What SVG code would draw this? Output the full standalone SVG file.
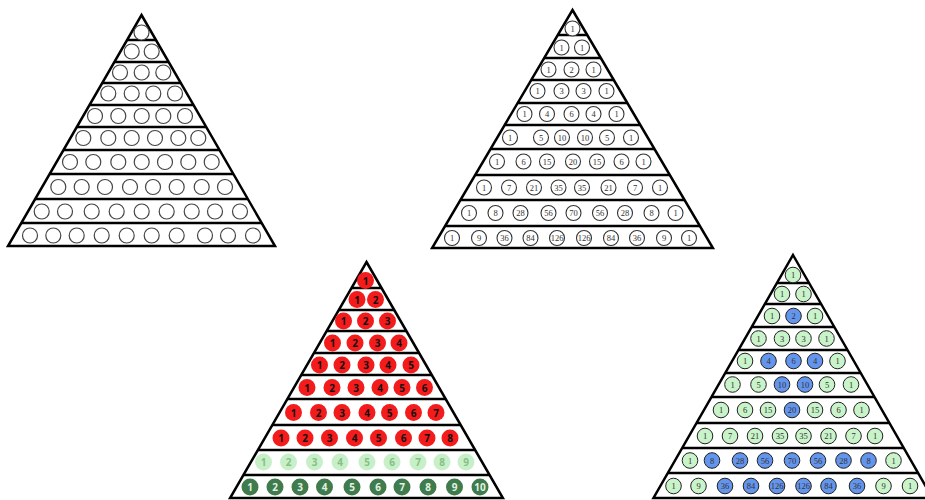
<svg xmlns="http://www.w3.org/2000/svg" width="925" height="500" viewBox="0 0 925 500">
<style>
.tri{fill:#fff;stroke:#000;stroke-width:2.5;stroke-linejoin:miter}
.ln{stroke:#000;stroke-width:2.5}
.e{fill:#fff;stroke:#444;stroke-width:1.2}
.w{fill:#fff;stroke:#333;stroke-width:1.1}
.s{font-family:"Liberation Serif","DejaVu Serif",serif;font-size:8.5px;fill:#333;text-anchor:middle;dominant-baseline:central}
.r{fill:#f31b1b}
.lg{fill:#c8f0c8}
.dg{fill:#3f7b4c}
.k{font-family:"Open Sans","DejaVu Sans",sans-serif;font-weight:700;font-size:10px;text-anchor:middle;dominant-baseline:central}
.kr{fill:#111}
.kl{fill:#86bf86}
.kd{fill:#e2f2e2}
.g{fill:#c9f3c9;stroke:#222;stroke-width:1}
.b{fill:#6495ed;stroke:#222;stroke-width:1}
</style>
<rect width="925" height="500" fill="#fff"/>

<g id="triangle-empty">
<polygon class="tri" points="141.5,15 275,246 8,246"/>
<g class="lines">
<line class="ln" x1="127" y1="40" x2="156" y2="40"/>
<line class="ln" x1="114.3" y1="62" x2="168.7" y2="62"/>
<line class="ln" x1="102.2" y1="83" x2="180.8" y2="83"/>
<line class="ln" x1="89.5" y1="105" x2="193.5" y2="105"/>
<line class="ln" x1="76.8" y1="127" x2="206.2" y2="127"/>
<line class="ln" x1="63.5" y1="150" x2="219.5" y2="150"/>
<line class="ln" x1="49.6" y1="174" x2="233.4" y2="174"/>
<line class="ln" x1="35.1" y1="199" x2="247.9" y2="199"/>
<line class="ln" x1="21.3" y1="223" x2="261.7" y2="223"/>
</g>
<g class="circles">
<circle class="e" cx="141.5" cy="32.5" r="7.5"/>
<circle class="e" cx="131.7" cy="51.5" r="7.5"/><circle class="e" cx="151.7" cy="51.5" r="7.5"/>
<circle class="e" cx="120" cy="72.5" r="7.5"/><circle class="e" cx="141.7" cy="72.5" r="7.5"/><circle class="e" cx="163.3" cy="72.5" r="7.5"/>
<circle class="e" cx="108.3" cy="93.5" r="7.5"/><circle class="e" cx="131.7" cy="93.5" r="7.5"/><circle class="e" cx="153.3" cy="93.5" r="7.5"/><circle class="e" cx="175" cy="93.5" r="7.5"/>
<circle class="e" cx="95" cy="116" r="7.5"/><circle class="e" cx="118.3" cy="116" r="7.5"/><circle class="e" cx="141.7" cy="116" r="7.5"/><circle class="e" cx="163.3" cy="116" r="7.5"/><circle class="e" cx="185" cy="116" r="7.5"/>
<circle class="e" cx="83.3" cy="138" r="7.5"/><circle class="e" cx="108.3" cy="138" r="7.5"/><circle class="e" cx="131.7" cy="138" r="7.5"/><circle class="e" cx="155" cy="138" r="7.5"/><circle class="e" cx="178.3" cy="138" r="7.5"/><circle class="e" cx="198.3" cy="138" r="7.5"/>
<circle class="e" cx="70" cy="162" r="7.5"/><circle class="e" cx="93.3" cy="162" r="7.5"/><circle class="e" cx="118.3" cy="162" r="7.5"/><circle class="e" cx="141.7" cy="162" r="7.5"/><circle class="e" cx="165" cy="162" r="7.5"/><circle class="e" cx="188.3" cy="162" r="7.5"/><circle class="e" cx="211.7" cy="162" r="7.5"/>
<circle class="e" cx="58.3" cy="187" r="7.5"/><circle class="e" cx="81.7" cy="187" r="7.5"/><circle class="e" cx="105" cy="187" r="7.5"/><circle class="e" cx="130" cy="187" r="7.5"/><circle class="e" cx="153" cy="187" r="7.5"/><circle class="e" cx="176.7" cy="187" r="7.5"/><circle class="e" cx="201.7" cy="187" r="7.5"/><circle class="e" cx="225" cy="187" r="7.5"/>
<circle class="e" cx="41.7" cy="211.5" r="7.5"/><circle class="e" cx="65" cy="211.5" r="7.5"/><circle class="e" cx="91.7" cy="211.5" r="7.5"/><circle class="e" cx="116.7" cy="211.5" r="7.5"/><circle class="e" cx="141.7" cy="211.5" r="7.5"/><circle class="e" cx="166.7" cy="211.5" r="7.5"/><circle class="e" cx="191.7" cy="211.5" r="7.5"/><circle class="e" cx="215" cy="211.5" r="7.5"/><circle class="e" cx="240" cy="211.5" r="7.5"/>
<circle class="e" cx="30" cy="235.5" r="7.5"/><circle class="e" cx="53.3" cy="235.5" r="7.5"/><circle class="e" cx="76.7" cy="235.5" r="7.5"/><circle class="e" cx="101.7" cy="235.5" r="7.5"/><circle class="e" cx="126.7" cy="235.5" r="7.5"/><circle class="e" cx="151.7" cy="235.5" r="7.5"/><circle class="e" cx="176.7" cy="235.5" r="7.5"/><circle class="e" cx="205" cy="235.5" r="7.5"/><circle class="e" cx="228" cy="235.5" r="7.5"/><circle class="e" cx="253" cy="235.5" r="7.5"/>
</g>
</g>

<g id="triangle-pascal">
<polygon class="tri" points="572.5,10 712.9,248 432.1,248"/>
<g class="lines">
<line class="ln" x1="557.8" y1="35" x2="587.2" y2="35"/>
<line class="ln" x1="544.2" y1="58" x2="600.8" y2="58"/>
<line class="ln" x1="531.2" y1="80" x2="613.8" y2="80"/>
<line class="ln" x1="517.6" y1="103" x2="627.4" y2="103"/>
<line class="ln" x1="504.6" y1="125" x2="640.4" y2="125"/>
<line class="ln" x1="490.5" y1="149" x2="654.5" y2="149"/>
<line class="ln" x1="475.1" y1="175" x2="669.9" y2="175"/>
<line class="ln" x1="460.4" y1="200" x2="684.6" y2="200"/>
<line class="ln" x1="445.1" y1="226" x2="699.9" y2="226"/>
</g>
<g class="circles">
<circle class="w" cx="572.5" cy="28.5" r="7.5"/>
<circle class="w" cx="561.5" cy="47.5" r="7.5"/><circle class="w" cx="582" cy="47.5" r="7.5"/>
<circle class="w" cx="548.5" cy="69.5" r="7.5"/><circle class="w" cx="571.5" cy="69.5" r="7.5"/><circle class="w" cx="593.5" cy="69.5" r="7.5"/>
<circle class="w" cx="537.5" cy="91" r="7.5"/><circle class="w" cx="561.5" cy="91" r="7.5"/><circle class="w" cx="583.5" cy="91" r="7.5"/><circle class="w" cx="606.5" cy="91" r="7.5"/>
<circle class="w" cx="524.5" cy="114" r="7.5"/><circle class="w" cx="547" cy="114" r="7.5"/><circle class="w" cx="571.5" cy="114" r="7.5"/><circle class="w" cx="593.5" cy="114" r="7.5"/><circle class="w" cx="616.5" cy="114" r="7.5"/>
<circle class="w" cx="510" cy="137.5" r="7.5"/><circle class="w" cx="541" cy="137.5" r="7.5"/><circle class="w" cx="562" cy="137.5" r="7.5"/><circle class="w" cx="585" cy="137.5" r="7.5"/><circle class="w" cx="607" cy="137.5" r="7.5"/><circle class="w" cx="631" cy="137.5" r="7.5"/>
<circle class="w" cx="497" cy="161.5" r="7.5"/><circle class="w" cx="523.5" cy="161.5" r="7.5"/><circle class="w" cx="547" cy="161.5" r="7.5"/><circle class="w" cx="573" cy="161.5" r="7.5"/><circle class="w" cx="597" cy="161.5" r="7.5"/><circle class="w" cx="621.5" cy="161.5" r="7.5"/><circle class="w" cx="643.5" cy="161.5" r="7.5"/>
<circle class="w" cx="484" cy="187.5" r="7.5"/><circle class="w" cx="509" cy="187.5" r="7.5"/><circle class="w" cx="534" cy="187.5" r="7.5"/><circle class="w" cx="558.5" cy="187.5" r="7.5"/><circle class="w" cx="582" cy="187.5" r="7.5"/><circle class="w" cx="608.5" cy="187.5" r="7.5"/><circle class="w" cx="635" cy="187.5" r="7.5"/><circle class="w" cx="660" cy="187.5" r="7.5"/>
<circle class="w" cx="469" cy="213" r="7.5"/><circle class="w" cx="495.5" cy="213" r="7.5"/><circle class="w" cx="520.5" cy="213" r="7.5"/><circle class="w" cx="548.5" cy="213" r="7.5"/><circle class="w" cx="573.5" cy="213" r="7.5"/><circle class="w" cx="600" cy="213" r="7.5"/><circle class="w" cx="625" cy="213" r="7.5"/><circle class="w" cx="651.5" cy="213" r="7.5"/><circle class="w" cx="675.5" cy="213" r="7.5"/>
<circle class="w" cx="452" cy="238" r="7.5"/><circle class="w" cx="479" cy="238" r="7.5"/><circle class="w" cx="504.5" cy="238" r="7.5"/><circle class="w" cx="530.5" cy="238" r="7.5"/><circle class="w" cx="557" cy="238" r="7.5"/><circle class="w" cx="584" cy="238" r="7.5"/><circle class="w" cx="611" cy="238" r="7.5"/><circle class="w" cx="637" cy="238" r="7.5"/><circle class="w" cx="664" cy="238" r="7.5"/><circle class="w" cx="689" cy="238" r="7.5"/>
</g>
<g class="labels">
<text class="s" x="572.5" y="28.5">1</text>
<text class="s" x="561.5" y="47.5">1</text><text class="s" x="582" y="47.5">1</text>
<text class="s" x="548.5" y="69.5">1</text><text class="s" x="571.5" y="69.5">2</text><text class="s" x="593.5" y="69.5">1</text>
<text class="s" x="537.5" y="91">1</text><text class="s" x="561.5" y="91">3</text><text class="s" x="583.5" y="91">3</text><text class="s" x="606.5" y="91">1</text>
<text class="s" x="524.5" y="114">1</text><text class="s" x="547" y="114">4</text><text class="s" x="571.5" y="114">6</text><text class="s" x="593.5" y="114">4</text><text class="s" x="616.5" y="114">1</text>
<text class="s" x="510" y="137.5">1</text><text class="s" x="541" y="137.5">5</text><text class="s" x="562" y="137.5">10</text><text class="s" x="585" y="137.5">10</text><text class="s" x="607" y="137.5">5</text><text class="s" x="631" y="137.5">1</text>
<text class="s" x="497" y="161.5">1</text><text class="s" x="523.5" y="161.5">6</text><text class="s" x="547" y="161.5">15</text><text class="s" x="573" y="161.5">20</text><text class="s" x="597" y="161.5">15</text><text class="s" x="621.5" y="161.5">6</text><text class="s" x="643.5" y="161.5">1</text>
<text class="s" x="484" y="187.5">1</text><text class="s" x="509" y="187.5">7</text><text class="s" x="534" y="187.5">21</text><text class="s" x="558.5" y="187.5">35</text><text class="s" x="582" y="187.5">35</text><text class="s" x="608.5" y="187.5">21</text><text class="s" x="635" y="187.5">7</text><text class="s" x="660" y="187.5">1</text>
<text class="s" x="469" y="213">1</text><text class="s" x="495.5" y="213">8</text><text class="s" x="520.5" y="213">28</text><text class="s" x="548.5" y="213">56</text><text class="s" x="573.5" y="213">70</text><text class="s" x="600" y="213">56</text><text class="s" x="625" y="213">28</text><text class="s" x="651.5" y="213">8</text><text class="s" x="675.5" y="213">1</text>
<text class="s" x="452" y="238">1</text><text class="s" x="479" y="238">9</text><text class="s" x="504.5" y="238">36</text><text class="s" x="530.5" y="238">84</text><text class="s" x="557" y="238">126</text><text class="s" x="584" y="238">126</text><text class="s" x="611" y="238">84</text><text class="s" x="637" y="238">36</text><text class="s" x="664" y="238">9</text><text class="s" x="689" y="238">1</text>
</g>
</g>

<g id="triangle-counting">
<polygon class="tri" points="366.5,262 502.9,498 230.1,498"/>
<g class="lines">
<line class="ln" x1="351.5" y1="288" x2="381.5" y2="288"/>
<line class="ln" x1="338.8" y1="310" x2="394.2" y2="310"/>
<line class="ln" x1="326.6" y1="331" x2="406.4" y2="331"/>
<line class="ln" x1="313.9" y1="353" x2="419.1" y2="353"/>
<line class="ln" x1="301.2" y1="375" x2="431.8" y2="375"/>
<line class="ln" x1="287.3" y1="399" x2="445.7" y2="399"/>
<line class="ln" x1="272.3" y1="425" x2="460.7" y2="425"/>
<line class="ln" x1="257.8" y1="450" x2="475.2" y2="450"/>
<line class="ln" x1="243.4" y1="475" x2="489.6" y2="475"/>
</g>
<g class="circles">
<circle class="r" cx="365.5" cy="280.5" r="8.5"/>
<circle class="r" cx="357" cy="299.5" r="8.5"/><circle class="r" cx="375.5" cy="299.5" r="8.5"/>
<circle class="r" cx="343.5" cy="321" r="8.5"/><circle class="r" cx="365.5" cy="321" r="8.5"/><circle class="r" cx="387.5" cy="321" r="8.5"/>
<circle class="r" cx="332.5" cy="343" r="8.5"/><circle class="r" cx="355" cy="343" r="8.5"/><circle class="r" cx="377.5" cy="343" r="8.5"/><circle class="r" cx="399" cy="343" r="8.5"/>
<circle class="r" cx="319.5" cy="365" r="8.5"/><circle class="r" cx="342" cy="365" r="8.5"/><circle class="r" cx="366" cy="365" r="8.5"/><circle class="r" cx="388" cy="365" r="8.5"/><circle class="r" cx="411" cy="365" r="8.5"/>
<circle class="r" cx="307" cy="387.5" r="8.5"/><circle class="r" cx="332" cy="387.5" r="8.5"/><circle class="r" cx="356" cy="387.5" r="8.5"/><circle class="r" cx="380" cy="387.5" r="8.5"/><circle class="r" cx="402" cy="387.5" r="8.5"/><circle class="r" cx="424.5" cy="387.5" r="8.5"/>
<circle class="r" cx="293.5" cy="412.5" r="8.5"/><circle class="r" cx="318.5" cy="412.5" r="8.5"/><circle class="r" cx="342" cy="412.5" r="8.5"/><circle class="r" cx="367" cy="412.5" r="8.5"/><circle class="r" cx="389.5" cy="412.5" r="8.5"/><circle class="r" cx="413.5" cy="412.5" r="8.5"/><circle class="r" cx="436" cy="412.5" r="8.5"/>
<circle class="r" cx="281" cy="438" r="8.5"/><circle class="r" cx="305" cy="438" r="8.5"/><circle class="r" cx="329.5" cy="438" r="8.5"/><circle class="r" cx="354.5" cy="438" r="8.5"/><circle class="r" cx="378.5" cy="438" r="8.5"/><circle class="r" cx="403.5" cy="438" r="8.5"/><circle class="r" cx="427" cy="438" r="8.5"/><circle class="r" cx="450" cy="438" r="8.5"/>
<circle class="lg" cx="263.5" cy="462" r="8.5"/><circle class="lg" cx="288.5" cy="462" r="8.5"/><circle class="lg" cx="314.5" cy="462" r="8.5"/><circle class="lg" cx="340" cy="462" r="8.5"/><circle class="lg" cx="367" cy="462" r="8.5"/><circle class="lg" cx="392" cy="462" r="8.5"/><circle class="lg" cx="418" cy="462" r="8.5"/><circle class="lg" cx="442" cy="462" r="8.5"/><circle class="lg" cx="466" cy="462" r="8.5"/>
<circle class="dg" cx="250" cy="487" r="8.5"/><circle class="dg" cx="275" cy="487" r="8.5"/><circle class="dg" cx="300" cy="487" r="8.5"/><circle class="dg" cx="324.5" cy="487" r="8.5"/><circle class="dg" cx="352" cy="487" r="8.5"/><circle class="dg" cx="378" cy="487" r="8.5"/><circle class="dg" cx="402" cy="487" r="8.5"/><circle class="dg" cx="428" cy="487" r="8.5"/><circle class="dg" cx="454.5" cy="487" r="8.5"/><circle class="dg" cx="480" cy="487" r="8.5"/>
</g>
<g class="labels">
<text class="k kr" x="365.5" y="280.5">1</text>
<text class="k kr" x="357" y="299.5">1</text><text class="k kr" x="375.5" y="299.5">2</text>
<text class="k kr" x="343.5" y="321">1</text><text class="k kr" x="365.5" y="321">2</text><text class="k kr" x="387.5" y="321">3</text>
<text class="k kr" x="332.5" y="343">1</text><text class="k kr" x="355" y="343">2</text><text class="k kr" x="377.5" y="343">3</text><text class="k kr" x="399" y="343">4</text>
<text class="k kr" x="319.5" y="365">1</text><text class="k kr" x="342" y="365">2</text><text class="k kr" x="366" y="365">3</text><text class="k kr" x="388" y="365">4</text><text class="k kr" x="411" y="365">5</text>
<text class="k kr" x="307" y="387.5">1</text><text class="k kr" x="332" y="387.5">2</text><text class="k kr" x="356" y="387.5">3</text><text class="k kr" x="380" y="387.5">4</text><text class="k kr" x="402" y="387.5">5</text><text class="k kr" x="424.5" y="387.5">6</text>
<text class="k kr" x="293.5" y="412.5">1</text><text class="k kr" x="318.5" y="412.5">2</text><text class="k kr" x="342" y="412.5">3</text><text class="k kr" x="367" y="412.5">4</text><text class="k kr" x="389.5" y="412.5">5</text><text class="k kr" x="413.5" y="412.5">6</text><text class="k kr" x="436" y="412.5">7</text>
<text class="k kr" x="281" y="438">1</text><text class="k kr" x="305" y="438">2</text><text class="k kr" x="329.5" y="438">3</text><text class="k kr" x="354.5" y="438">4</text><text class="k kr" x="378.5" y="438">5</text><text class="k kr" x="403.5" y="438">6</text><text class="k kr" x="427" y="438">7</text><text class="k kr" x="450" y="438">8</text>
<text class="k kl" x="263.5" y="462">1</text><text class="k kl" x="288.5" y="462">2</text><text class="k kl" x="314.5" y="462">3</text><text class="k kl" x="340" y="462">4</text><text class="k kl" x="367" y="462">5</text><text class="k kl" x="392" y="462">6</text><text class="k kl" x="418" y="462">7</text><text class="k kl" x="442" y="462">8</text><text class="k kl" x="466" y="462">9</text>
<text class="k kd" x="250" y="487">1</text><text class="k kd" x="275" y="487">2</text><text class="k kd" x="300" y="487">3</text><text class="k kd" x="324.5" y="487">4</text><text class="k kd" x="352" y="487">5</text><text class="k kd" x="378" y="487">6</text><text class="k kd" x="402" y="487">7</text><text class="k kd" x="428" y="487">8</text><text class="k kd" x="454.5" y="487">9</text><text class="k kd" x="480" y="487">10</text>
</g>
</g>

<g id="triangle-parity">
<polygon class="tri" points="793,255 932.5,498 653.5,498"/>
<g class="lines">
<line class="ln" x1="776.9" y1="283" x2="809.1" y2="283"/>
<line class="ln" x1="764.9" y1="304" x2="821.1" y2="304"/>
<line class="ln" x1="751.7" y1="327" x2="834.3" y2="327"/>
<line class="ln" x1="738.5" y1="350" x2="847.5" y2="350"/>
<line class="ln" x1="725.3" y1="373" x2="860.7" y2="373"/>
<line class="ln" x1="711.5" y1="397" x2="874.5" y2="397"/>
<line class="ln" x1="696.6" y1="423" x2="889.4" y2="423"/>
<line class="ln" x1="682.2" y1="448" x2="903.8" y2="448"/>
<line class="ln" x1="667.9" y1="473" x2="918.1" y2="473"/>
</g>
<g class="circles">
<circle class="g" cx="793" cy="275" r="7.8"/>
<circle class="g" cx="782" cy="294" r="7.8"/><circle class="g" cx="803.5" cy="294" r="7.8"/>
<circle class="g" cx="772" cy="316" r="7.8"/><circle class="b" cx="793.5" cy="316" r="7.8"/><circle class="g" cx="815" cy="316" r="7.8"/>
<circle class="g" cx="758.5" cy="338.5" r="7.8"/><circle class="g" cx="782" cy="338.5" r="7.8"/><circle class="g" cx="803.5" cy="338.5" r="7.8"/><circle class="g" cx="826.5" cy="338.5" r="7.8"/>
<circle class="g" cx="745" cy="361" r="7.8"/><circle class="b" cx="768.5" cy="361" r="7.8"/><circle class="b" cx="793.5" cy="361" r="7.8"/><circle class="b" cx="815" cy="361" r="7.8"/><circle class="g" cx="837.5" cy="361" r="7.8"/>
<circle class="g" cx="732.5" cy="384.5" r="7.8"/><circle class="g" cx="758.5" cy="384.5" r="7.8"/><circle class="b" cx="782" cy="384.5" r="7.8"/><circle class="b" cx="805" cy="384.5" r="7.8"/><circle class="g" cx="827" cy="384.5" r="7.8"/><circle class="g" cx="851" cy="384.5" r="7.8"/>
<circle class="g" cx="721" cy="410" r="7.8"/><circle class="g" cx="745" cy="410" r="7.8"/><circle class="g" cx="768" cy="410" r="7.8"/><circle class="b" cx="792" cy="410" r="7.8"/><circle class="g" cx="815" cy="410" r="7.8"/><circle class="g" cx="838.5" cy="410" r="7.8"/><circle class="g" cx="861.5" cy="410" r="7.8"/>
<circle class="g" cx="705" cy="436" r="7.8"/><circle class="g" cx="730" cy="436" r="7.8"/><circle class="g" cx="755" cy="436" r="7.8"/><circle class="g" cx="780" cy="436" r="7.8"/><circle class="g" cx="803.5" cy="436" r="7.8"/><circle class="g" cx="828.5" cy="436" r="7.8"/><circle class="g" cx="853.5" cy="436" r="7.8"/><circle class="g" cx="875" cy="436" r="7.8"/>
<circle class="g" cx="690" cy="460.5" r="7.8"/><circle class="b" cx="712" cy="460.5" r="7.8"/><circle class="b" cx="740" cy="460.5" r="7.8"/><circle class="b" cx="765" cy="460.5" r="7.8"/><circle class="b" cx="792" cy="460.5" r="7.8"/><circle class="b" cx="818" cy="460.5" r="7.8"/><circle class="b" cx="843.5" cy="460.5" r="7.8"/><circle class="b" cx="868.5" cy="460.5" r="7.8"/><circle class="g" cx="893.5" cy="460.5" r="7.8"/>
<circle class="g" cx="673.5" cy="486" r="7.8"/><circle class="g" cx="698.5" cy="486" r="7.8"/><circle class="b" cx="725" cy="486" r="7.8"/><circle class="b" cx="751" cy="486" r="7.8"/><circle class="b" cx="777" cy="486" r="7.8"/><circle class="b" cx="803.5" cy="486" r="7.8"/><circle class="b" cx="828.5" cy="486" r="7.8"/><circle class="b" cx="857" cy="486" r="7.8"/><circle class="g" cx="883.5" cy="486" r="7.8"/><circle class="g" cx="910" cy="486" r="7.8"/>
</g>
<g class="labels">
<text class="s" x="793" y="275">1</text>
<text class="s" x="782" y="294">1</text><text class="s" x="803.5" y="294">1</text>
<text class="s" x="772" y="316">1</text><text class="s" x="793.5" y="316">2</text><text class="s" x="815" y="316">1</text>
<text class="s" x="758.5" y="338.5">1</text><text class="s" x="782" y="338.5">3</text><text class="s" x="803.5" y="338.5">3</text><text class="s" x="826.5" y="338.5">1</text>
<text class="s" x="745" y="361">1</text><text class="s" x="768.5" y="361">4</text><text class="s" x="793.5" y="361">6</text><text class="s" x="815" y="361">4</text><text class="s" x="837.5" y="361">1</text>
<text class="s" x="732.5" y="384.5">1</text><text class="s" x="758.5" y="384.5">5</text><text class="s" x="782" y="384.5">10</text><text class="s" x="805" y="384.5">10</text><text class="s" x="827" y="384.5">5</text><text class="s" x="851" y="384.5">1</text>
<text class="s" x="721" y="410">1</text><text class="s" x="745" y="410">6</text><text class="s" x="768" y="410">15</text><text class="s" x="792" y="410">20</text><text class="s" x="815" y="410">15</text><text class="s" x="838.5" y="410">6</text><text class="s" x="861.5" y="410">1</text>
<text class="s" x="705" y="436">1</text><text class="s" x="730" y="436">7</text><text class="s" x="755" y="436">21</text><text class="s" x="780" y="436">35</text><text class="s" x="803.5" y="436">35</text><text class="s" x="828.5" y="436">21</text><text class="s" x="853.5" y="436">7</text><text class="s" x="875" y="436">1</text>
<text class="s" x="690" y="460.5">1</text><text class="s" x="712" y="460.5">8</text><text class="s" x="740" y="460.5">28</text><text class="s" x="765" y="460.5">56</text><text class="s" x="792" y="460.5">70</text><text class="s" x="818" y="460.5">56</text><text class="s" x="843.5" y="460.5">28</text><text class="s" x="868.5" y="460.5">8</text><text class="s" x="893.5" y="460.5">1</text>
<text class="s" x="673.5" y="486">1</text><text class="s" x="698.5" y="486">9</text><text class="s" x="725" y="486">36</text><text class="s" x="751" y="486">84</text><text class="s" x="777" y="486">126</text><text class="s" x="803.5" y="486">126</text><text class="s" x="828.5" y="486">84</text><text class="s" x="857" y="486">36</text><text class="s" x="883.5" y="486">9</text><text class="s" x="910" y="486">1</text>
</g>
</g>
</svg>
